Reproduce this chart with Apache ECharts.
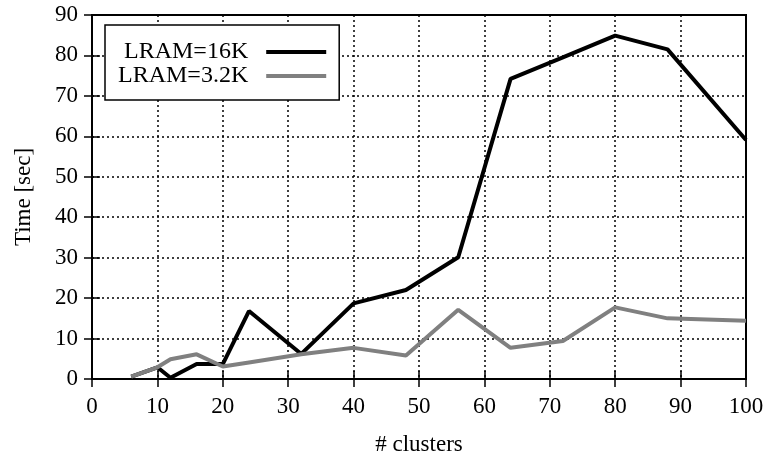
<!DOCTYPE html>
<html>
<head>
<meta charset="utf-8">
<script src="https://cdn.jsdelivr.net/npm/echarts@6/dist/echarts.min.js"></script>
<style>
  html, body { margin: 0; padding: 0; background: #fff; }
  #main { width: 768px; height: 454px; }
</style>
</head>
<body>
<div id="main"></div>
<script>
// values
const clusters = [6, 10, 12, 16, 20, 24, 32, 40, 48, 56, 64, 72, 80, 88, 100]
const lram16k = [0.6, 2.9, 0.3, 3.7, 3.7, 16.8, 6.2, 18.7, 22, 30.1, 74.2, 79.5, 84.9, 81.5, 59.1]
const lram32k = [0.6, 2.9, 4.9, 6.1, 3.1, 4.1, 6.1, 7.7, 5.8, 17.1, 7.7, 9.4, 17.7, 15.0, 14.4]

const font = 'Liberation Serif, Times New Roman, serif'

function pairs (ys) {
  return clusters.map((x, i) => [x, ys[i]])
}

const dotted = { show: true, lineStyle: { color: '#000', width: 1.5, type: [2, 3] } }
const hidden = { show: false }
const ticks = { show: true, inside: true, length: 8, lineStyle: { color: '#000', width: 1.5 } }

let chart = echarts.init(document.getElementById('main'))
chart.setOption({
  animation: false,
  backgroundColor: '#fff',
  grid: {
    left: 92, right: 22, top: 15, bottom: 75,
    outerBoundsMode: 'none',
    show: true, borderColor: '#000', borderWidth: 2
  },
  legend: {
    orient: 'vertical',
    left: 105,
    top: 25,
    align: 'right',
    icon: 'rect',
    itemWidth: 60,
    itemHeight: 4,
    itemGap: 0,
    padding: [15, 13, 12, 13],
    borderColor: '#000',
    borderWidth: 1.5,
    backgroundColor: '#fff',
    textStyle: { fontFamily: font, fontSize: 24, color: '#000', padding: [0, 13, 0, 0] },
    data: ['LRAM=16K', 'LRAM=3.2K']
  },
  xAxis: [{
    type: 'value', min: 0, max: 100, interval: 10,
    name: '# clusters', nameLocation: 'middle', nameGap: 54,
    nameTextStyle: { fontFamily: font, fontSize: 23, color: '#000' },
    axisLine: hidden,
    axisTick: ticks,
    axisLabel: { fontFamily: font, fontSize: 23, color: '#000', margin: 16 },
    splitLine: dotted
  }, {
    type: 'value', min: 0, max: 100, interval: 10, position: 'top',
    axisLine: hidden, axisLabel: hidden, splitLine: hidden,
    axisTick: ticks
  }],
  yAxis: [{
    type: 'value', min: 0, max: 90, interval: 10,
    name: 'Time [sec]', nameLocation: 'middle', nameGap: 57,
    nameTextStyle: { fontFamily: font, fontSize: 23, color: '#000' },
    axisLine: hidden,
    axisTick: ticks,
    axisLabel: { fontFamily: font, fontSize: 23, color: '#000', margin: 14 },
    splitLine: dotted
  }, {
    type: 'value', min: 0, max: 90, interval: 10, position: 'right',
    axisLine: hidden, axisLabel: hidden, splitLine: hidden,
    axisTick: ticks
  }],
  series: [{
    name: 'LRAM=16K',
    type: 'line',
    data: pairs(lram16k),
    showSymbol: false,
    itemStyle: { color: '#000' },
    lineStyle: { color: '#000', width: 4 }
  }, {
    name: 'LRAM=3.2K',
    type: 'line',
    data: pairs(lram32k),
    showSymbol: false,
    itemStyle: { color: '#808080' },
    lineStyle: { color: '#808080', width: 4 }
  }]
})
</script>
</body>
</html>
